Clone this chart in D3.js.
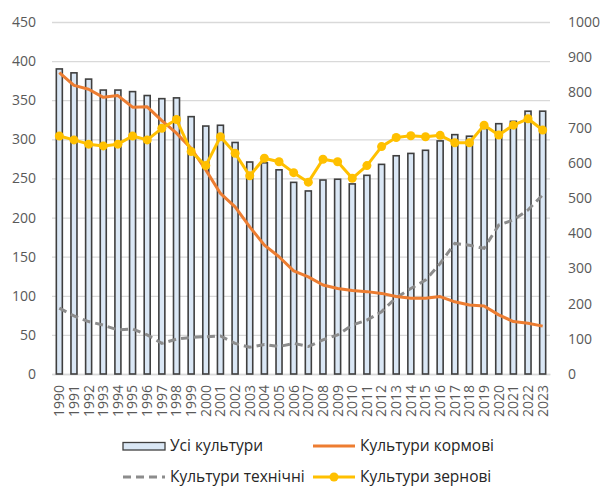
<!DOCTYPE html>
<html>
<head>
<meta charset="utf-8">
<script src="https://cdn.jsdelivr.net/npm/d3@7"></script>
<style>
  body { margin: 0; background: #fff; }
  text { font-family: "Open Sans", "Liberation Sans", sans-serif; }
</style>
</head>
<body>
<div id="wrapper"></div>
<script>
// data
const years = d3.range(1990, 2024).map(String)
const allCrops = [390, 385, 377, 363, 363, 361, 356, 352, 353, 329, 317, 318, 296, 271, 270, 261, 245, 234,
  248, 249, 243, 254, 268, 279, 282, 286, 298, 306, 304, 314, 320, 323, 336, 336]
const fodder = [856, 820, 809, 786, 791, 758, 759, 720, 684, 641, 580, 513, 475, 418, 366, 333, 293, 276,
  253, 243, 237, 234, 229, 220, 215, 215, 220, 205, 196, 193, 168, 149, 144, 136]
const industrial = [187, 165, 149, 139, 125, 128, 111, 87, 99, 104, 106, 108, 87, 76, 84, 78, 87, 78,
  97, 111, 139, 153, 177, 217, 243, 267, 314, 371, 366, 357, 423, 438, 466, 509]
const grain = [676, 665, 653, 648, 653, 676, 665, 698, 723, 632, 592, 674, 627, 563, 613, 603, 572, 545,
  610, 603, 556, 592, 646, 672, 677, 674, 678, 657, 657, 707, 679, 707, 725, 693]
const leftTicks = [0, 50, 100, 150, 200, 250, 300, 350, 400, 450]
const rightTicks = [0, 100, 200, 300, 400, 500, 600, 700, 800, 900, 1000]
const legendLabels = ["Усі культури", "Культури кормові", "Культури технічні", "Культури зернові"]

const dims = {
  width: 604,
  height: 486,
  margin: { top: 22, right: 54, bottom: 112, left: 52 },
}
dims.boundedWidth = dims.width - dims.margin.left - dims.margin.right
dims.boundedHeight = dims.height - dims.margin.top - dims.margin.bottom

const svg = d3.select("#wrapper")
  .append("svg")
    .attr("width", dims.width)
    .attr("height", dims.height)

const bounds = svg.append("g")
  .attr("transform", `translate(${dims.margin.left},${dims.margin.top})`)

// scales
const xScale = d3.scaleBand()
  .domain(years)
  .range([0, dims.boundedWidth])

const yLeft = d3.scaleLinear()
  .domain([0, 450])
  .range([dims.boundedHeight, 0])

const yRight = d3.scaleLinear()
  .domain([0, 1000])
  .range([dims.boundedHeight, 0])

// gridlines
bounds.append("g")
  .selectAll("line")
  .data(leftTicks)
  .join("line")
    .attr("x1", 0)
    .attr("x2", dims.boundedWidth)
    .attr("y1", d => yLeft(d) + 0.5)
    .attr("y2", d => yLeft(d) + 0.5)
    .attr("stroke", "#d9d9d9")
    .attr("stroke-width", 1.3)

// axes
const yAxisLeft = bounds.append("g")
  .call(d3.axisLeft(yLeft).tickValues(leftTicks).tickFormat(d3.format("d")).tickSize(0).tickPadding(16))
yAxisLeft.select(".domain").remove()
yAxisLeft.selectAll("text")
  .attr("font-size", 14)
  .attr("fill", "#595959")
  .style("font-family", "'Open Sans', sans-serif")

const yAxisRight = bounds.append("g")
  .attr("transform", `translate(${dims.boundedWidth},0)`)
  .call(d3.axisRight(yRight).tickValues(rightTicks).tickFormat(d3.format("d")).tickSize(0).tickPadding(18))
yAxisRight.select(".domain").remove()
yAxisRight.selectAll("text")
  .attr("font-size", 14)
  .attr("fill", "#595959")
  .style("font-family", "'Open Sans', sans-serif")

const xAxis = bounds.append("g")
  .attr("transform", `translate(0,${dims.boundedHeight})`)
  .call(d3.axisBottom(xScale).tickSize(0).tickPadding(0))
xAxis.select(".domain").attr("stroke", "#d9d9d9").attr("stroke-width", 1.3)
xAxis.selectAll("text")
  .attr("font-size", 14)
  .attr("fill", "#595959")
  .attr("text-anchor", "end")
  .attr("dy", "0.35em")
  .attr("transform", "translate(0,11) rotate(-90)")
  .style("font-family", "'Open Sans', sans-serif")

// bars
const barW = 6
bounds.append("g")
  .selectAll("rect")
  .data(allCrops)
  .join("rect")
    .attr("x", (d, i) => xScale(years[i]) + (xScale.bandwidth() - barW) / 2)
    .attr("y", d => yLeft(d))
    .attr("width", barW)
    .attr("height", d => dims.boundedHeight - yLeft(d))
    .attr("fill", "#dae7f5")
    .attr("stroke", "#3f3f3f")
    .attr("stroke-width", 1.6)

// lines on the right axis
const lineGen = d3.line()
  .x((d, i) => xScale(years[i]) + xScale.bandwidth() / 2)
  .y(d => yRight(d))

bounds.append("path")
  .attr("d", lineGen(industrial))
  .attr("fill", "none")
  .attr("stroke", "#8c8c8c")
  .attr("stroke-width", 3)
  .attr("stroke-dasharray", "8,5")

bounds.append("path")
  .attr("d", lineGen(fodder))
  .attr("fill", "none")
  .attr("stroke", "#ed7d31")
  .attr("stroke-width", 3)
  .attr("stroke-linejoin", "round")

bounds.append("path")
  .attr("d", lineGen(grain))
  .attr("fill", "none")
  .attr("stroke", "#ffc000")
  .attr("stroke-width", 3)
  .attr("stroke-linejoin", "round")

bounds.append("g")
  .selectAll("circle")
  .data(grain)
  .join("circle")
    .attr("cx", (d, i) => xScale(years[i]) + xScale.bandwidth() / 2)
    .attr("cy", d => yRight(d))
    .attr("r", 4.5)
    .attr("fill", "#ffc000")

// legend
const legend = svg.append("g")
const legendPos = [[123, 446], [313, 446], [123, 477], [313, 477]]

legend.append("rect")
  .attr("x", legendPos[0][0])
  .attr("y", legendPos[0][1] - 3.5)
  .attr("width", 42)
  .attr("height", 7.5)
  .attr("fill", "#dae7f5")
  .attr("stroke", "#3f3f3f")
  .attr("stroke-width", 1.3)

legend.append("line")
  .attr("x1", legendPos[1][0]).attr("x2", legendPos[1][0] + 42)
  .attr("y1", legendPos[1][1]).attr("y2", legendPos[1][1])
  .attr("stroke", "#ed7d31").attr("stroke-width", 3)

legend.append("line")
  .attr("x1", legendPos[2][0]).attr("x2", legendPos[2][0] + 42)
  .attr("y1", legendPos[2][1]).attr("y2", legendPos[2][1])
  .attr("stroke", "#8c8c8c").attr("stroke-width", 3)
  .attr("stroke-dasharray", "8,5")

legend.append("line")
  .attr("x1", legendPos[3][0]).attr("x2", legendPos[3][0] + 42)
  .attr("y1", legendPos[3][1]).attr("y2", legendPos[3][1])
  .attr("stroke", "#ffc000").attr("stroke-width", 3)

legend.append("circle")
  .attr("cx", legendPos[3][0] + 21)
  .attr("cy", legendPos[3][1])
  .attr("r", 4.5)
  .attr("fill", "#ffc000")

legend.selectAll("text")
  .data(legendLabels)
  .join("text")
    .attr("x", (d, i) => legendPos[i][0] + 47)
    .attr("y", (d, i) => legendPos[i][1])
    .attr("dy", "0.35em")
    .attr("font-size", 15.5)
    .attr("fill", "#262626")
    .text(d => d)
</script>
</body>
</html>
